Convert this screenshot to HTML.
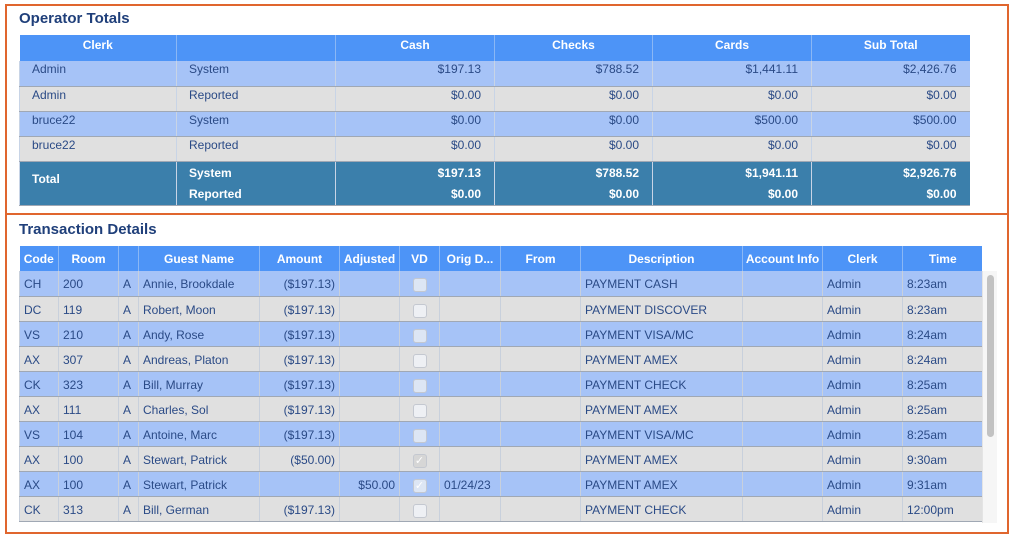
<!DOCTYPE html>
<html><head><style>
*{margin:0;padding:0;box-sizing:border-box}
body{width:1013px;height:538px;background:#fff;font-family:"Liberation Sans",Arial,sans-serif;position:relative;overflow:hidden;color:#2a4a86}
.box{position:absolute;border:2px solid #e0662e}
h2{position:absolute;font-size:15px;font-weight:bold;color:#1f3f7a}
table{position:absolute;border-collapse:collapse;table-layout:fixed;font-size:12px}
td,th{overflow:hidden;white-space:nowrap;vertical-align:top}
th{background:#4d94f7;color:#fff;font-weight:bold;border-left:1px solid #8ab7f5;text-align:center}
th:first-child{border-left:none}
#t1 th{height:26px;padding-top:3px}
#t1 td{height:25px;padding:1px 13px 0 12px;border-left:1px solid #c8d4e6;border-bottom:1px solid #a0a8b4}
#t1 td.r{text-align:right}
tr.b td{background:#a6c3f7}
tr.g td{background:#e0e0e0}
tr.t td{background:#3b7fab;color:#fff;font-weight:bold;border-bottom:none;border-left:1px solid #8fb4cf}
#t2 th{height:25px;padding-top:6px}
#t2 td{height:25px;padding:6px 4px 0 4px;border-left:1px solid #c8d0dc;border-bottom:1px solid #a0a8b4}
#t2 td.r{text-align:right}
.cb{display:inline-block;width:14px;height:14px;border:1px solid #c4c8d0;border-radius:3px;background:#eef0f4;margin-top:1px}
tr.b .cb{background:#dde6f4}
.cb.k{background:#d6d6d6;color:#fff;font-size:11px;line-height:12px;text-align:center}
</style></head><body>
<div class="box" style="left:5px;top:4px;width:1004px;height:211px"></div>
<div class="box" style="left:5px;top:213px;width:1004px;height:321px;border-top:none"></div>
<h2 style="left:19px;top:10px">Operator Totals</h2>
<table id="t1" style="left:19px;top:35px;width:950px">
<colgroup><col style="width:157px"><col style="width:159px"><col style="width:159px"><col style="width:158px"><col style="width:159px"><col style="width:158px"></colgroup>
<tr><th>Clerk</th><th></th><th>Cash</th><th>Checks</th><th>Cards</th><th>Sub Total</th></tr>
<tr class="b"><td>Admin</td><td>System</td><td class="r">$197.13</td><td class="r">$788.52</td><td class="r">$1,441.11</td><td class="r">$2,426.76</td></tr>
<tr class="g"><td>Admin</td><td>Reported</td><td class="r">$0.00</td><td class="r">$0.00</td><td class="r">$0.00</td><td class="r">$0.00</td></tr>
<tr class="b"><td>bruce22</td><td>System</td><td class="r">$0.00</td><td class="r">$0.00</td><td class="r">$500.00</td><td class="r">$500.00</td></tr>
<tr class="g"><td>bruce22</td><td>Reported</td><td class="r">$0.00</td><td class="r">$0.00</td><td class="r">$0.00</td><td class="r">$0.00</td></tr>
<tr class="t"><td style="height:42px;padding-top:10px">Total</td><td style="line-height:21px">System<br>Reported</td><td class="r" style="line-height:21px">$197.13<br>$0.00</td><td class="r" style="line-height:21px">$788.52<br>$0.00</td><td class="r" style="line-height:21px">$1,941.11<br>$0.00</td><td class="r" style="line-height:21px">$2,926.76<br>$0.00</td></tr>
</table>
<h2 style="left:19px;top:221px">Transaction Details</h2>
<div style="position:absolute;left:982px;top:271px;width:15px;height:252px;background:#f6f6f6;border-left:1px solid #e4e4e4"></div>
<div style="position:absolute;left:987px;top:275px;width:7px;height:162px;background:#c2c2c2;border-radius:4px"></div>
<div style="position:absolute;left:19px;top:246px;width:963px;height:277px;overflow:hidden">
<table id="t2" style="left:0;top:0;width:963px">
<colgroup><col style="width:39px"><col style="width:60px"><col style="width:20px"><col style="width:121px"><col style="width:80px"><col style="width:60px"><col style="width:40px"><col style="width:61px"><col style="width:80px"><col style="width:162px"><col style="width:80px"><col style="width:80px"><col style="width:80px"></colgroup>
<tr><th>Code</th><th>Room</th><th></th><th>Guest Name</th><th>Amount</th><th>Adjusted</th><th>VD</th><th>Orig D...</th><th>From</th><th>Description</th><th>Account Info</th><th>Clerk</th><th>Time</th></tr>
<tr class="b"><td>CH</td><td>200</td><td>A</td><td>Annie, Brookdale</td><td class="r">($197.13)</td><td></td><td style="text-align:center"><span class="cb"></span></td><td></td><td></td><td>PAYMENT CASH</td><td></td><td>Admin</td><td>8:23am</td></tr>
<tr class="g"><td>DC</td><td>119</td><td>A</td><td>Robert, Moon</td><td class="r">($197.13)</td><td></td><td style="text-align:center"><span class="cb"></span></td><td></td><td></td><td>PAYMENT DISCOVER</td><td></td><td>Admin</td><td>8:23am</td></tr>
<tr class="b"><td>VS</td><td>210</td><td>A</td><td>Andy, Rose</td><td class="r">($197.13)</td><td></td><td style="text-align:center"><span class="cb"></span></td><td></td><td></td><td>PAYMENT VISA/MC</td><td></td><td>Admin</td><td>8:24am</td></tr>
<tr class="g"><td>AX</td><td>307</td><td>A</td><td>Andreas, Platon</td><td class="r">($197.13)</td><td></td><td style="text-align:center"><span class="cb"></span></td><td></td><td></td><td>PAYMENT AMEX</td><td></td><td>Admin</td><td>8:24am</td></tr>
<tr class="b"><td>CK</td><td>323</td><td>A</td><td>Bill, Murray</td><td class="r">($197.13)</td><td></td><td style="text-align:center"><span class="cb"></span></td><td></td><td></td><td>PAYMENT CHECK</td><td></td><td>Admin</td><td>8:25am</td></tr>
<tr class="g"><td>AX</td><td>111</td><td>A</td><td>Charles, Sol</td><td class="r">($197.13)</td><td></td><td style="text-align:center"><span class="cb"></span></td><td></td><td></td><td>PAYMENT AMEX</td><td></td><td>Admin</td><td>8:25am</td></tr>
<tr class="b"><td>VS</td><td>104</td><td>A</td><td>Antoine, Marc</td><td class="r">($197.13)</td><td></td><td style="text-align:center"><span class="cb"></span></td><td></td><td></td><td>PAYMENT VISA/MC</td><td></td><td>Admin</td><td>8:25am</td></tr>
<tr class="g"><td>AX</td><td>100</td><td>A</td><td>Stewart, Patrick</td><td class="r">($50.00)</td><td></td><td style="text-align:center"><span class="cb k">✓</span></td><td></td><td></td><td>PAYMENT AMEX</td><td></td><td>Admin</td><td>9:30am</td></tr>
<tr class="b"><td>AX</td><td>100</td><td>A</td><td>Stewart, Patrick</td><td></td><td class="r">$50.00</td><td style="text-align:center"><span class="cb k">✓</span></td><td>01/24/23</td><td></td><td>PAYMENT AMEX</td><td></td><td>Admin</td><td>9:31am</td></tr>
<tr class="g"><td>CK</td><td>313</td><td>A</td><td>Bill, German</td><td class="r">($197.13)</td><td></td><td style="text-align:center"><span class="cb"></span></td><td></td><td></td><td>PAYMENT CHECK</td><td></td><td>Admin</td><td>12:00pm</td></tr>
</table>
</div>
</body></html>
